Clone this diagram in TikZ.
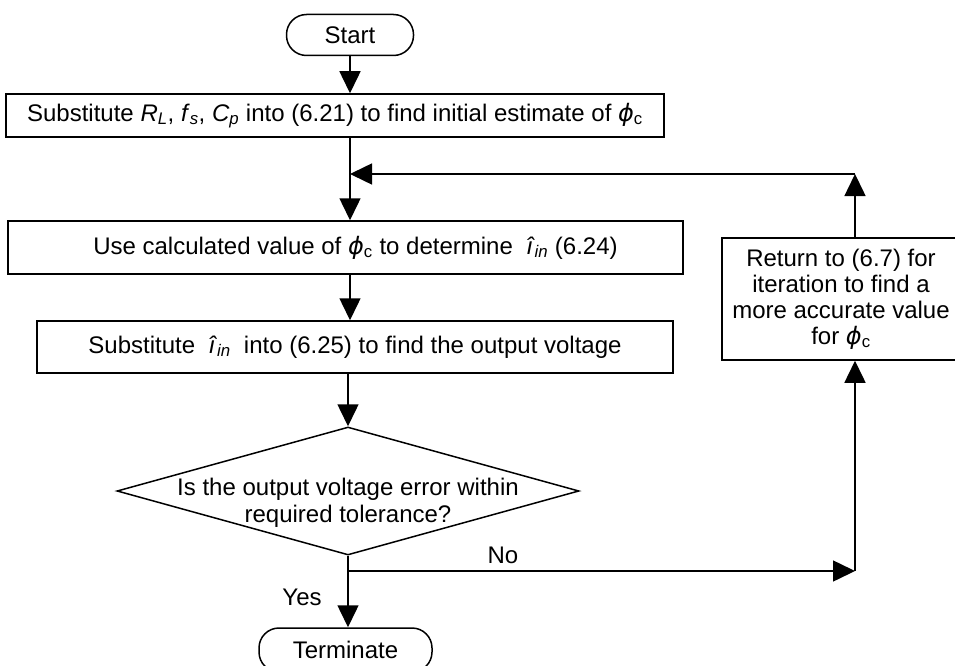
\documentclass[tikz,border=0pt]{standalone}
\usepackage{fontspec}
\setmainfont{Liberation Sans}
\newfontfamily\grk{DejaVu Sans}
\usetikzlibrary{positioning,arrows.meta,shapes.geometric}

\newcommand{\isub}[2]{\textit{#1}\textsubscript{\textit{#2}}}
\newcommand{\phic}{{\grk\itshape ϕ}\textsubscript{c}}
\newcommand{\iin}{\textit{î}\textsubscript{\textit{in}}}

\begin{document}
\begin{tikzpicture}[>={Triangle[length=22pt,width=21pt]},
    x=1pt, y=-1pt, line width=1.5pt,
    align=center, font=\fontsize{24}{26}\selectfont,
    term/.style={rectangle, rounded corners=20pt, draw=black, minimum height=41pt, inner sep=0pt},
    proc/.style={rectangle, draw=black, minimum height=52pt, inner sep=0pt},
    decision/.style={diamond, draw=black, inner sep=0pt, minimum width=462pt, minimum height=128pt}]
    \useasboundingbox (0,0) rectangle (955,666);

    \node [term, minimum width=127pt] (start) at (350,35) {Start};
    \node [proc, minimum width=658pt, minimum height=43pt] (sub1) at (335,115.5)
        {Substitute \isub{R}{L}, \isub{f}{s}, \isub{C}{p} into (6.21) to find initial estimate of \phic};
    \node [proc, minimum width=675pt, minimum height=53pt] (usephi) at (345.5,247.5)
        {\hspace{20pt}Use calculated value of \phic{} to determine \ \iin{} (6.24)};
    \node [proc, minimum width=636pt] (subin) at (355,347)
        {Substitute \ \iin\ \ into (6.25) to find the output voltage};
    \node [decision, label={[align=center, yshift=-12pt, font=\fontsize{24}{27}\selectfont]center:Is the output voltage error within\\required tolerance?}] (check) at (348,491) {};
    \node [term, minimum width=173pt, minimum height=44pt] (stop) at (345.5,650) {Terminate};
    \node [proc, minimum width=238pt, minimum height=122pt] (back) at (841,299)
        {Return to (6.7) for\\iteration to find a\\more accurate value\\for \phic};

    \node (no) at (503,555) {No};
    \node (yes) at (302,597) {Yes};

    \coordinate (loop) at (855,174);
    \coordinate (split) at (348,571);
    \coordinate (turn) at (855,571);

    % main column
    \path [->] (start) edge (start |- sub1.north);
    \path [->] (sub1.south -| start) edge (usephi.north -| start);
    \path [->] (usephi.south -| start) edge (subin.north -| start);
    \path [->] (subin.south -| check) edge (check.north);
    \path [->] (check.south) edge (stop.north -| check);

    % iteration loop
    \path [->] (split) edge (turn);
    \path [->] (turn) edge (back.south -| turn);
    \path [->] (back.north -| loop) edge (loop);
    \path [->] (loop) edge (loop -| start);
\end{tikzpicture}
\end{document}
